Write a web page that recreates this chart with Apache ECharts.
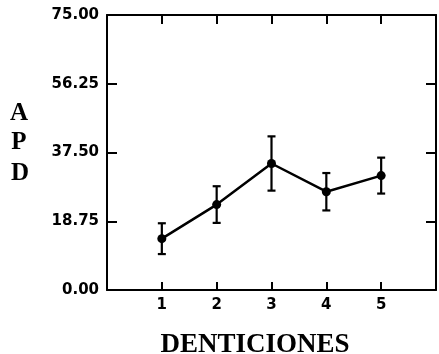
<!DOCTYPE html>
<html><head><meta charset="utf-8">
<script src="https://cdn.jsdelivr.net/npm/echarts@6/dist/echarts.min.js"></script>
<style>html,body{margin:0;padding:0;background:#fff}#c{width:439px;height:354px}</style>
</head><body><div id="c"></div>
<script>
var categories = [1, 2, 3, 4, 5];
var means = [14.0, 23.3, 34.5, 26.8, 31.2];
var errors = [4.2, 5.0, 7.4, 5.1, 4.9];
var yTicks = [0, 18.75, 37.5, 56.25, 75];
var xTitle = 'DENTICIONES';
var yTitle = ['A', 'P', 'D'];

var lineData = categories.map(function (c, i) { return [c, means[i]]; });
var errData = categories.map(function (c, i) { return [c, means[i] - errors[i], means[i] + errors[i]]; });

var chart = echarts.init(document.getElementById('c'), null, {renderer: 'canvas'});
var axisLine = {show: true, onZero: false, lineStyle: {color: '#000', width: 2}};
var tickStyle = {color: '#000', width: 2};
chart.setOption({
  animation: false,
  backgroundColor: '#fff',
  grid: {left: 107, right: 1, top: 15, bottom: 64, containLabel: false},
  xAxis: [{
    type: 'value', min: 0, max: 6, interval: 1, position: 'bottom',
    axisLine: axisLine, splitLine: {show: false},
    axisTick: {show: true, inside: true, length: 8, lineStyle: tickStyle},
    axisLabel: {margin: 8, color: '#000', fontFamily: 'DejaVu Sans', fontSize: 15, fontWeight: 'bold',
      formatter: function (v) { return (v >= 1 && v <= 5) ? String(v) : ''; }}
  }, {
    type: 'value', min: 0, max: 6, interval: 1, position: 'top',
    axisLine: axisLine, splitLine: {show: false}, axisLabel: {show: false},
    axisTick: {show: true, inside: true, length: 9, lineStyle: tickStyle}
  }],
  yAxis: [{
    type: 'value', min: yTicks[0], max: yTicks[yTicks.length - 1], interval: yTicks[1] - yTicks[0], position: 'left',
    axisLine: axisLine, splitLine: {show: false},
    axisTick: {show: true, inside: true, length: 10, lineStyle: tickStyle},
    axisLabel: {margin: 8, color: '#000', fontFamily: 'DejaVu Sans', fontSize: 15, fontWeight: 'bold',
      formatter: function (v) { return v.toFixed(2); }}
  }, {
    type: 'value', min: yTicks[0], max: yTicks[yTicks.length - 1], interval: yTicks[1] - yTicks[0], position: 'right',
    axisLine: axisLine, splitLine: {show: false}, axisLabel: {show: false},
    axisTick: {show: true, inside: true, length: 10, lineStyle: tickStyle}
  }],
  graphic: [
    {type: 'text', x: 255, y: 345, style: {text: xTitle, fill: '#000', font: 'bold 27px "Liberation Serif"', align: 'center', verticalAlign: 'middle'}},
    {type: 'text', x: 19, y: 114, style: {text: yTitle[0], fill: '#000', font: 'bold 25px "Liberation Serif"', align: 'center', verticalAlign: 'middle'}},
    {type: 'text', x: 19, y: 143, style: {text: yTitle[1], fill: '#000', font: 'bold 25px "Liberation Serif"', align: 'center', verticalAlign: 'middle'}},
    {type: 'text', x: 20, y: 174, style: {text: yTitle[2], fill: '#000', font: 'bold 25px "Liberation Serif"', align: 'center', verticalAlign: 'middle'}}
  ],
  series: [{
    type: 'line', data: lineData, xAxisIndex: 0, yAxisIndex: 0,
    symbol: 'circle', symbolSize: 9,
    lineStyle: {color: '#000', width: 2.5}, itemStyle: {color: '#000'}
  }, {
    type: 'custom', data: errData, xAxisIndex: 0, yAxisIndex: 0, z: 3,
    renderItem: function (params, api) {
      var x = api.value(0);
      var lo = api.coord([x, api.value(1)]);
      var hi = api.coord([x, api.value(2)]);
      var w = 4;
      var st = {stroke: '#000', lineWidth: 2.2};
      return {type: 'group', children: [
        {type: 'line', shape: {x1: lo[0], y1: lo[1], x2: hi[0], y2: hi[1]}, style: st},
        {type: 'line', shape: {x1: lo[0] - w, y1: lo[1], x2: lo[0] + w, y2: lo[1]}, style: st},
        {type: 'line', shape: {x1: hi[0] - w, y1: hi[1], x2: hi[0] + w, y2: hi[1]}, style: st}
      ]};
    }
  }]
});
</script></body></html>
